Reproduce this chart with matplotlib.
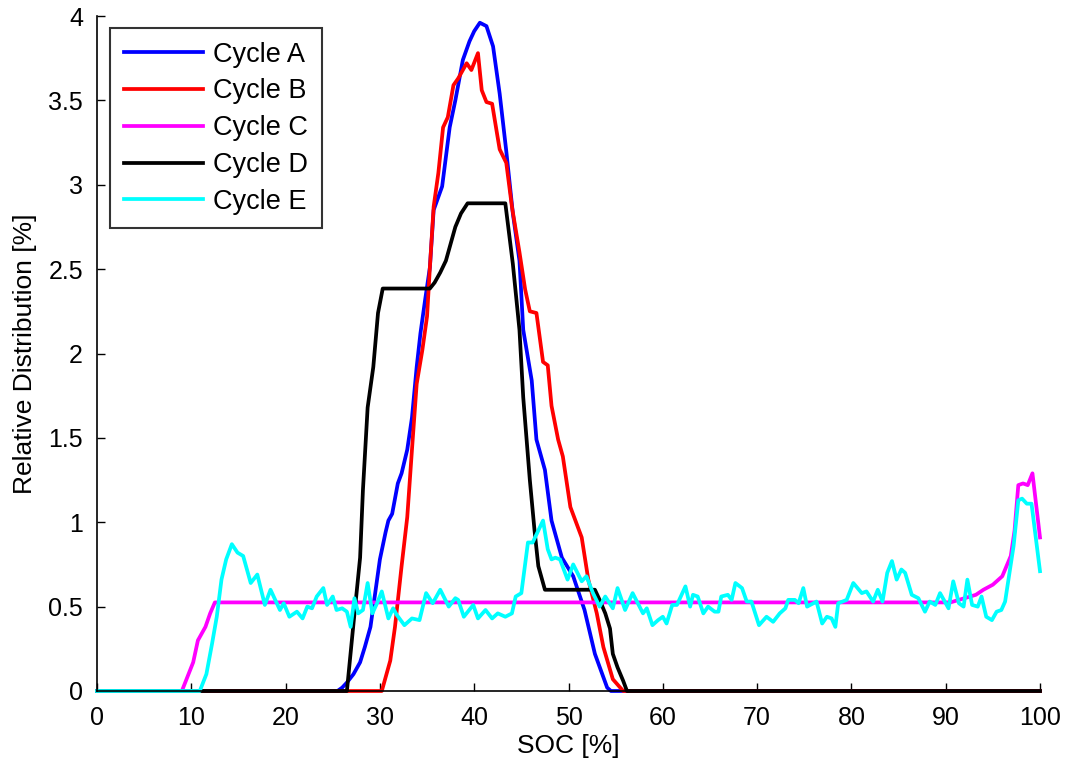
import matplotlib
matplotlib.use("Agg")
import matplotlib.pyplot as plt

plt.rcParams['font.family'] = ['Liberation Sans', 'DejaVu Sans']

# ---------------- data ----------------
xA = [0, 25.5, 26.0, 26.5, 27.2, 27.9, 28.4, 29.0, 29.5, 30.0, 30.6, 30.9, 31.3, 31.9, 32.3, 32.9, 33.4, 33.9,
      34.3, 34.8, 35.3, 35.7, 36.6, 37.4, 38.0, 38.8, 39.5, 40.0, 40.6, 41.3, 42.0, 42.7, 43.4, 44.1,
      44.8, 45.2, 46.1, 46.6, 47.5, 48.2, 49.3, 50.5, 51.7, 52.8, 54.1, 54.5, 100]
yA = [0, 0, 0.02, 0.05, 0.10, 0.17, 0.26, 0.38, 0.58, 0.78, 0.94, 1.01, 1.05, 1.23, 1.29, 1.43, 1.62, 1.92,
      2.12, 2.32, 2.51, 2.85, 2.99, 3.34, 3.50, 3.74, 3.85, 3.91, 3.96, 3.94, 3.82, 3.54, 3.20, 2.83,
      2.55, 2.14, 1.84, 1.49, 1.31, 1.01, 0.79, 0.68, 0.48, 0.22, 0.02, 0, 0]

xB = [0, 30.2, 31.1, 31.6, 32.3, 32.9, 33.4, 33.9, 34.5, 35.0, 35.3, 35.7, 36.2, 36.7, 37.2, 37.8, 38.3,
      39.2, 39.7, 40.4, 40.8, 41.3, 41.9, 42.4, 42.7, 43.4, 44.0, 44.8, 45.4, 45.9, 46.6, 47.3, 47.8,
      48.2, 48.9, 49.4, 50.2, 51.4, 52.1, 53.0, 53.7, 54.7, 55.8, 100]
yB = [0, 0, 0.18, 0.38, 0.74, 1.03, 1.43, 1.82, 2.02, 2.22, 2.51, 2.87, 3.07, 3.34, 3.40, 3.59, 3.63,
      3.72, 3.68, 3.78, 3.56, 3.49, 3.48, 3.31, 3.21, 3.13, 2.87, 2.60, 2.38, 2.25, 2.24, 1.95, 1.93,
      1.69, 1.49, 1.39, 1.09, 0.91, 0.66, 0.46, 0.26, 0.07, 0, 0]

xC = [0, 9.0, 10.2, 10.7, 11.5, 12.0, 12.5, 90.5, 92.0, 93.2, 94.0, 95.0, 96.0, 96.9, 97.3, 97.7, 98.2,
      98.7, 99.2, 100]
yC = [0, 0, 0.17, 0.30, 0.38, 0.46, 0.525, 0.525, 0.55, 0.57, 0.60, 0.63, 0.68, 0.80, 0.95, 1.22, 1.23,
      1.22, 1.29, 0.91]

xD = [0, 26.5, 27.2, 27.9, 28.2, 28.7, 29.3, 29.8, 30.3, 35.3, 35.8, 36.4, 37.0, 37.4, 38.0, 38.6, 39.3,
      43.3, 44.1, 44.8, 45.2, 45.9, 46.4, 46.8, 47.5, 52.8, 53.3, 53.9, 54.4, 54.7, 55.2, 55.8, 56.2, 100]
yD = [0, 0, 0.40, 0.79, 1.19, 1.68, 1.92, 2.24, 2.385, 2.385, 2.42, 2.48, 2.55, 2.63, 2.75, 2.83, 2.89,
      2.89, 2.53, 2.14, 1.74, 1.25, 0.95, 0.74, 0.60, 0.60, 0.54, 0.46, 0.37, 0.22, 0.14, 0.06, 0, 0]

xE = [0, 10.9, 11.6, 12.2, 12.7, 13.2, 13.7, 14.3, 14.9, 15.5, 16.3, 17.0, 17.8, 18.4, 19.4, 19.8, 20.4,
      21.2, 21.8, 22.3, 22.8, 23.3, 24.0, 24.4, 25.0, 25.4, 26.0, 26.5, 26.9, 27.3, 27.7, 28.2, 28.7,
      29.2, 29.7, 30.2, 30.9, 31.4, 31.8, 32.6, 33.4, 34.2, 34.9, 35.6, 36.4, 37.3, 38.0, 38.3, 38.9,
      39.9, 40.4, 41.2, 41.9, 42.5, 43.3, 44.0, 44.4, 45.0, 45.7, 46.2, 47.3, 47.8, 48.2, 48.6, 49.1,
      49.9, 50.5, 51.4, 51.9, 52.6, 53.3, 53.9, 54.7, 55.2, 56.0, 56.8, 57.9, 58.3, 58.9, 59.5, 60.0,
      60.4, 61.0, 61.5, 62.4, 62.9, 63.2, 63.7, 64.3, 64.8, 65.5, 65.9, 66.2, 66.9, 67.3, 67.7, 68.4,
      68.9, 69.4, 70.2, 71.0, 71.7, 72.4, 73.0, 73.3, 74.0, 74.4, 74.9, 75.3, 76.3, 76.9, 77.4, 77.9,
      78.3, 78.6, 79.5, 80.2, 81.1, 81.6, 82.3, 82.8, 83.3, 83.8, 84.3, 84.8, 85.3, 85.7, 86.4, 87.1,
      87.8, 88.3, 88.9, 89.4, 90.3, 90.8, 91.4, 91.9, 92.3, 92.8, 93.4, 93.8, 94.3, 94.9, 95.4, 95.9,
      96.3, 96.6, 97.2, 97.7, 98.1, 98.6, 99.1, 100]
yE = [0, 0, 0.10, 0.28, 0.44, 0.66, 0.78, 0.87, 0.82, 0.80, 0.64, 0.69, 0.51, 0.60, 0.48, 0.52, 0.44,
      0.47, 0.43, 0.50, 0.49, 0.56, 0.61, 0.51, 0.56, 0.48, 0.49, 0.47, 0.38, 0.55, 0.46, 0.48, 0.64,
      0.46, 0.52, 0.59, 0.43, 0.49, 0.45, 0.39, 0.43, 0.42, 0.58, 0.52, 0.60, 0.50, 0.55, 0.54, 0.44,
      0.51, 0.43, 0.48, 0.43, 0.46, 0.44, 0.46, 0.56, 0.58, 0.88, 0.88, 1.01, 0.84, 0.78, 0.79, 0.78,
      0.66, 0.75, 0.65, 0.68, 0.58, 0.50, 0.56, 0.49, 0.61, 0.48, 0.58, 0.46, 0.49, 0.39, 0.42, 0.44,
      0.40, 0.51, 0.51, 0.62, 0.50, 0.57, 0.56, 0.46, 0.50, 0.47, 0.47, 0.56, 0.57, 0.54, 0.64, 0.61,
      0.53, 0.53, 0.39, 0.44, 0.41, 0.46, 0.49, 0.54, 0.54, 0.52, 0.61, 0.50, 0.53, 0.40, 0.44, 0.43,
      0.38, 0.52, 0.54, 0.64, 0.58, 0.59, 0.53, 0.60, 0.53, 0.70, 0.77, 0.66, 0.72, 0.70, 0.57, 0.55,
      0.47, 0.53, 0.51, 0.58, 0.49, 0.65, 0.52, 0.50, 0.66, 0.51, 0.50, 0.56, 0.44, 0.42, 0.47, 0.48,
      0.53, 0.64, 0.86, 1.13, 1.14, 1.11, 1.11, 0.71]

series_names = ["Cycle A", "Cycle B", "Cycle C", "Cycle D", "Cycle E"]
series_colors = ["#0000ff", "#ff0000", "#ff00ff", "#000000", "#00ffff"]

x_ticks = [0, 10, 20, 30, 40, 50, 60, 70, 80, 90, 100]
x_ticklabels = ["0", "10", "20", "30", "40", "50", "60", "70", "80", "90", "100"]
y_ticks = [0, 0.5, 1, 1.5, 2, 2.5, 3, 3.5, 4]
y_ticklabels = ["0", "0.5", "1", "1.5", "2", "2.5", "3", "3.5", "4"]

# ---------------- plot ----------------
fig = plt.figure(figsize=(10.72, 7.65), dpi=100)
ax = fig.add_axes([97 / 1072, 1 - 691 / 765, (1040 - 97) / 1072, (691 - 16) / 765])

series = [(xA, yA), (xB, yB), (xC, yC), (xD, yD), (xE, yE)]
for (xs, ys), name, col in zip(series, series_names, series_colors):
    ax.plot(xs, ys, color=col, lw=2.7, label=name, clip_on=False, solid_joinstyle='round')

ax.set_xlim(0, 100)
ax.set_ylim(0, 4)
ax.set_xticks(x_ticks)
ax.set_xticklabels(x_ticklabels)
ax.set_yticks(y_ticks)
ax.set_yticklabels(y_ticklabels)
ax.tick_params(direction='in', length=6, width=1, labelsize=18)
ax.tick_params(axis='x', pad=11)
ax.tick_params(axis='y', pad=10)
for s in ['top', 'right']:
    ax.spines[s].set_visible(False)
for s in ['left', 'bottom']:
    ax.spines[s].set_linewidth(1.2)

ax.set_xlabel("SOC [%]", fontsize=19, labelpad=3)
ax.set_ylabel("Relative Distribution [%]", fontsize=19, labelpad=8)

leg = ax.legend(loc='upper left', bbox_to_anchor=(13 / 943, 1 - 12 / 675), fontsize=19.5,
                frameon=True, fancybox=False, edgecolor='black', borderaxespad=0,
                handlelength=2.95, handletextpad=0.37, labelspacing=0.40, borderpad=0.5)
leg.get_frame().set_linewidth(1.5)

fig.savefig("out.png", dpi=100)
